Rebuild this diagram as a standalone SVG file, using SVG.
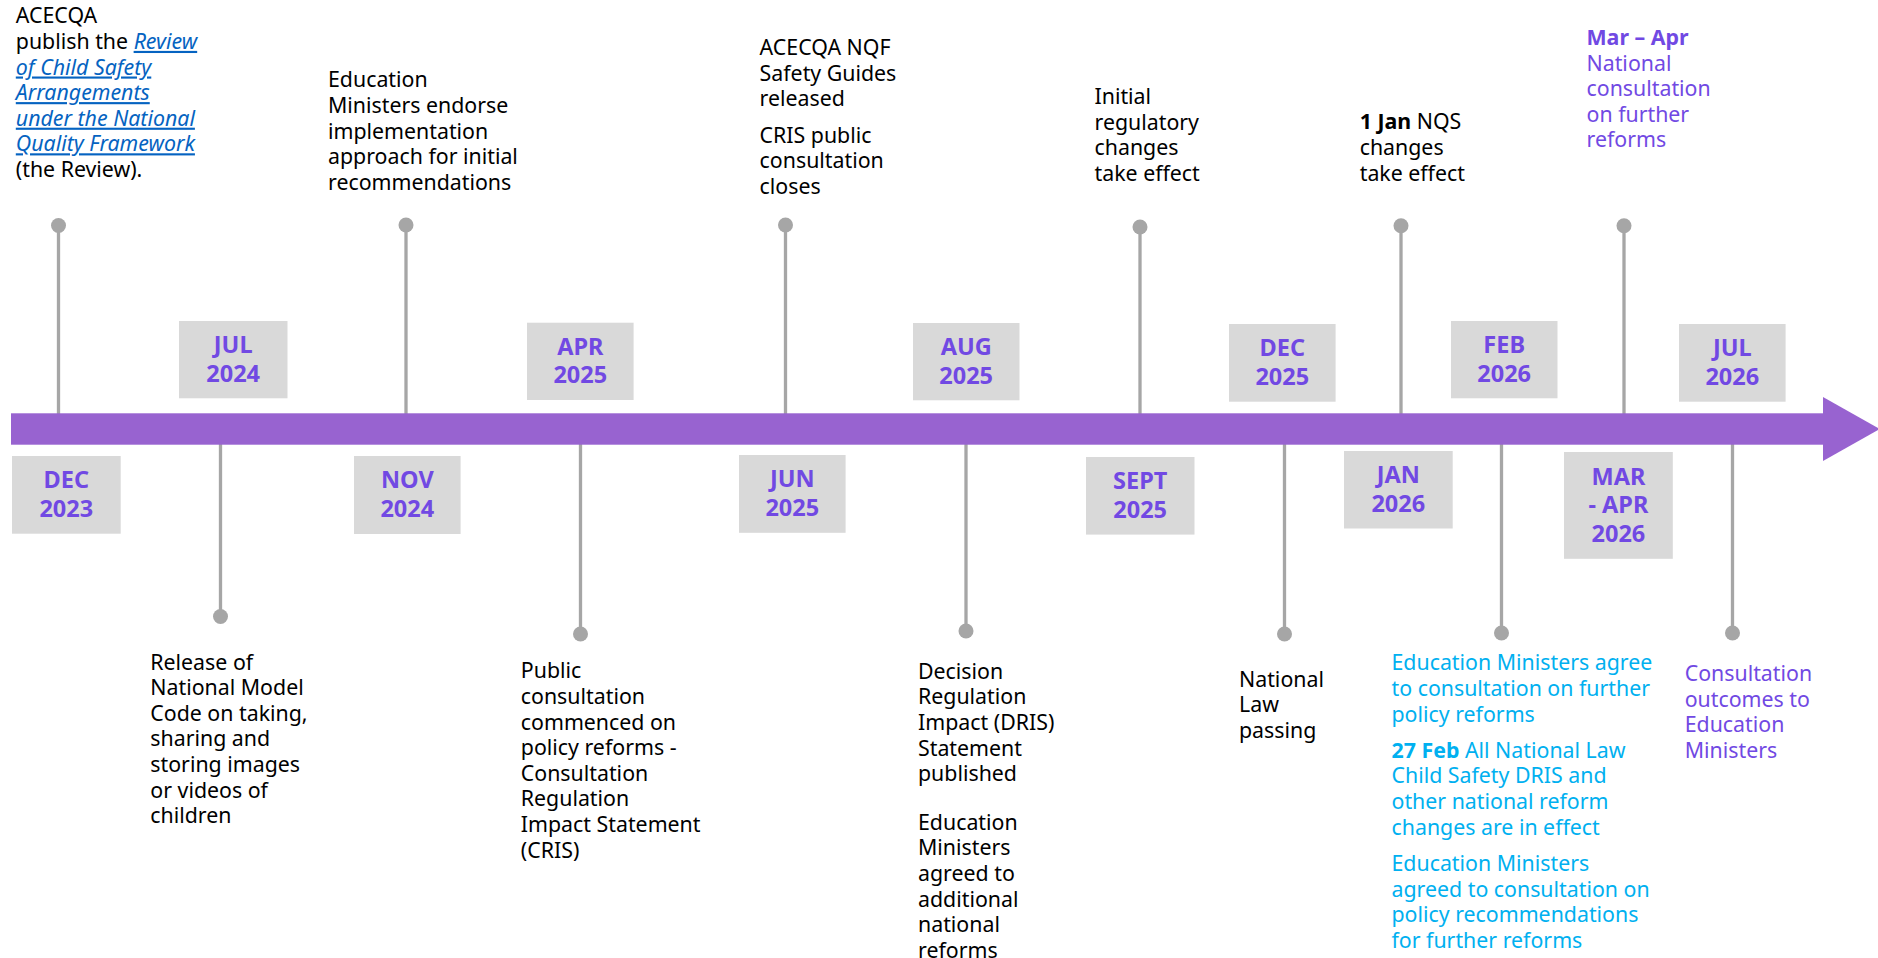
<svg xmlns="http://www.w3.org/2000/svg" width="1878" height="958" viewBox="0 0 1878 958">
<style>
  text { font-family: "Noto Sans", "Open Sans", "Liberation Sans", sans-serif; }
  .t { font-size: 21.33px; fill: #000000; }
  .lnk { font-style: italic; fill: #0563C1; text-decoration: underline; }
  .b { font-weight: bold; }
  .pur { fill: #7149E3; }
  .blu { fill: #00B0F0; }
  .box { fill: #D9D9D9; }
  .lbl { font-size: 23.5px; font-weight: bold; fill: #7149E3; text-anchor: middle; }
  .stem { stroke: #A6A6A6; stroke-width: 3.3; fill: none; }
  .dot { fill: #A6A6A6; }
</style>
<rect width="1878" height="958" fill="#FFFFFF"/>

<g id="connectors">
  <line class="stem" x1="58.5" y1="225.5" x2="58.5" y2="414"/>
  <line class="stem" x1="406" y1="225" x2="406" y2="414"/>
  <line class="stem" x1="785.5" y1="225" x2="785.5" y2="414"/>
  <line class="stem" x1="1140" y1="227" x2="1140" y2="414"/>
  <line class="stem" x1="1401" y1="225.7" x2="1401" y2="414"/>
  <line class="stem" x1="1624" y1="225.7" x2="1624" y2="414"/>
  <line class="stem" x1="220.5" y1="444" x2="220.5" y2="616.5"/>
  <line class="stem" x1="580.5" y1="444" x2="580.5" y2="634"/>
  <line class="stem" x1="966" y1="444" x2="966" y2="631"/>
  <line class="stem" x1="1284.5" y1="444" x2="1284.5" y2="634"/>
  <line class="stem" x1="1501.5" y1="444" x2="1501.5" y2="633"/>
  <line class="stem" x1="1732.5" y1="444" x2="1732.5" y2="633"/>
  <circle class="dot" cx="58.5" cy="225.5" r="7.5"/>
  <circle class="dot" cx="406" cy="225" r="7.5"/>
  <circle class="dot" cx="785.5" cy="225" r="7.5"/>
  <circle class="dot" cx="1140" cy="227" r="7.5"/>
  <circle class="dot" cx="1401" cy="225.7" r="7.5"/>
  <circle class="dot" cx="1624" cy="225.7" r="7.5"/>
  <circle class="dot" cx="220.5" cy="616.5" r="7.5"/>
  <circle class="dot" cx="580.5" cy="634" r="7.5"/>
  <circle class="dot" cx="966" cy="631" r="7.5"/>
  <circle class="dot" cx="1284.5" cy="634" r="7.5"/>
  <circle class="dot" cx="1501.5" cy="633" r="7.5"/>
  <circle class="dot" cx="1732.5" cy="633" r="7.5"/>
</g>

<g id="timeline-arrow">
  <rect x="11" y="413.3" width="1813" height="31.4" fill="#9863D0"/>
  <polygon points="1823,397 1880,429 1823,461" fill="#9863D0"/>
</g>

<g id="date-dec-2023">
  <rect class="box" x="12" y="456" width="108.7" height="77.7"/>
  <text class="lbl" x="66.3" y="488.2">DEC<tspan x="66.3" dy="28.6">2023</tspan></text>
</g>
<g id="date-jul-2024">
  <rect class="box" x="179" y="321" width="108.5" height="77.3"/>
  <text class="lbl" x="233.2" y="353.2">JUL<tspan x="233.2" dy="28.6">2024</tspan></text>
</g>
<g id="date-nov-2024">
  <rect class="box" x="354" y="456" width="106.6" height="78"/>
  <text class="lbl" x="407.3" y="488.4">NOV<tspan x="407.3" dy="28.6">2024</tspan></text>
</g>
<g id="date-apr-2025">
  <rect class="box" x="527" y="322.7" width="106.6" height="77.3"/>
  <text class="lbl" x="580.3" y="354.8">APR<tspan x="580.3" dy="28.6">2025</tspan></text>
</g>
<g id="date-jun-2025">
  <rect class="box" x="739" y="455" width="106.6" height="77.8"/>
  <text class="lbl" x="792.3" y="487.4">JUN<tspan x="792.3" dy="28.6">2025</tspan></text>
</g>
<g id="date-aug-2025">
  <rect class="box" x="913" y="323" width="106.5" height="77.3"/>
  <text class="lbl" x="966.2" y="355.1">AUG<tspan x="966.2" dy="28.6">2025</tspan></text>
</g>
<g id="date-sept-2025">
  <rect class="box" x="1086" y="457" width="108.5" height="77.6"/>
  <text class="lbl" x="1140.2" y="489.3">SEPT<tspan x="1140.2" dy="28.6">2025</tspan></text>
</g>
<g id="date-dec-2025">
  <rect class="box" x="1229" y="324" width="106.6" height="77.7"/>
  <text class="lbl" x="1282.3" y="356.3">DEC<tspan x="1282.3" dy="28.6">2025</tspan></text>
</g>
<g id="date-jan-2026">
  <rect class="box" x="1344" y="451" width="108.7" height="77.5"/>
  <text class="lbl" x="1398.3" y="483.2">JAN<tspan x="1398.3" dy="28.6">2026</tspan></text>
</g>
<g id="date-feb-2026">
  <rect class="box" x="1451" y="321" width="106.5" height="77.3"/>
  <text class="lbl" x="1504.2" y="353.1">FEB<tspan x="1504.2" dy="28.6">2026</tspan></text>
</g>
<g id="date-mar-apr-2026">
  <rect class="box" x="1564" y="452" width="108.8" height="106.8"/>
  <text class="lbl" x="1618.4" y="484.8">MAR<tspan x="1618.4" dy="28.6">- APR</tspan><tspan x="1618.4" dy="28.6">2026</tspan></text>
</g>
<g id="date-jul-2026">
  <rect class="box" x="1679" y="324" width="106.6" height="77.7"/>
  <text class="lbl" x="1732.3" y="356.3">JUL<tspan x="1732.3" dy="28.6">2026</tspan></text>
</g>

<g id="event-review-published">
  <text class="t" x="15.8" y="23.3">ACECQA</text>
  <text class="t" x="15.8" y="48.9">publish the <tspan class="lnk">Review</tspan></text>
  <text class="t lnk" x="15.8" y="74.5">of Child Safety</text>
  <text class="t lnk" x="15.8" y="100.1">Arrangements</text>
  <text class="t lnk" x="15.8" y="125.7">under the National</text>
  <text class="t lnk" x="15.8" y="151.3">Quality Framework</text>
  <text class="t" x="15.8" y="176.9">(the Review).</text>
</g>

<g id="event-ministers-endorse">
  <text class="t" x="328" y="87.3">Education</text>
  <text class="t" x="328" y="112.9">Ministers endorse</text>
  <text class="t" x="328" y="138.5">implementation</text>
  <text class="t" x="328" y="164.1">approach for initial</text>
  <text class="t" x="328" y="189.7">recommendations</text>
</g>

<g id="event-safety-guides">
  <text class="t" x="759.6" y="55">ACECQA NQF</text>
  <text class="t" x="759.6" y="80.6">Safety Guides</text>
  <text class="t" x="759.6" y="106.2">released</text>
  <text class="t" x="759.6" y="142.7">CRIS public</text>
  <text class="t" x="759.6" y="168.3">consultation</text>
  <text class="t" x="759.6" y="193.9">closes</text>
</g>

<g id="event-initial-changes">
  <text class="t" x="1094.5" y="104">Initial</text>
  <text class="t" x="1094.5" y="129.6">regulatory</text>
  <text class="t" x="1094.5" y="155.2">changes</text>
  <text class="t" x="1094.5" y="180.8">take effect</text>
</g>

<g id="event-nqs-changes">
  <text class="t" x="1359.7" y="129.4"><tspan class="b">1 Jan</tspan> NQS</text>
  <text class="t" x="1359.7" y="155">changes</text>
  <text class="t" x="1359.7" y="180.6">take effect</text>
</g>

<g id="event-national-consultation">
  <text class="t pur b" x="1586.5" y="45">Mar – Apr</text>
  <text class="t pur" x="1586.5" y="70.6">National</text>
  <text class="t pur" x="1586.5" y="96.2">consultation</text>
  <text class="t pur" x="1586.5" y="121.8">on further</text>
  <text class="t pur" x="1586.5" y="147.4">reforms</text>
</g>

<g id="event-model-code">
  <text class="t" x="150.3" y="669.5">Release of</text>
  <text class="t" x="150.3" y="695.1">National Model</text>
  <text class="t" x="150.3" y="720.7">Code on taking,</text>
  <text class="t" x="150.3" y="746.3">sharing and</text>
  <text class="t" x="150.3" y="771.9">storing images</text>
  <text class="t" x="150.3" y="797.5">or videos of</text>
  <text class="t" x="150.3" y="823.1">children</text>
</g>

<g id="event-public-consultation">
  <text class="t" x="520.8" y="678.4">Public</text>
  <text class="t" x="520.8" y="704">consultation</text>
  <text class="t" x="520.8" y="729.6">commenced on</text>
  <text class="t" x="520.8" y="755.2">policy reforms -</text>
  <text class="t" x="520.8" y="780.8">Consultation</text>
  <text class="t" x="520.8" y="806.4">Regulation</text>
  <text class="t" x="520.8" y="832">Impact Statement</text>
  <text class="t" x="520.8" y="857.6">(CRIS)</text>
</g>

<g id="event-dris">
  <text class="t" x="918" y="678.7">Decision</text>
  <text class="t" x="918" y="704.3">Regulation</text>
  <text class="t" x="918" y="729.9">Impact (DRIS)</text>
  <text class="t" x="918" y="755.5">Statement</text>
  <text class="t" x="918" y="781.1">published</text>
  <text class="t" x="918" y="829.8">Education</text>
  <text class="t" x="918" y="855.4">Ministers</text>
  <text class="t" x="918" y="881">agreed to</text>
  <text class="t" x="918" y="906.6">additional</text>
  <text class="t" x="918" y="932.2">national</text>
  <text class="t" x="918" y="957.8">reforms</text>
</g>

<g id="event-national-law">
  <text class="t" x="1239" y="686.6">National</text>
  <text class="t" x="1239" y="712.2">Law</text>
  <text class="t" x="1239" y="737.8">passing</text>
</g>

<g id="event-feb-2026">
  <text class="t blu" x="1391.5" y="670.3">Education Ministers agree</text>
  <text class="t blu" x="1391.5" y="695.9">to consultation on further</text>
  <text class="t blu" x="1391.5" y="721.5">policy reforms</text>
  <text class="t blu" x="1391.5" y="757.8"><tspan class="b">27 Feb</tspan> All National Law</text>
  <text class="t blu" x="1391.5" y="783.4">Child Safety DRIS and</text>
  <text class="t blu" x="1391.5" y="809">other national reform</text>
  <text class="t blu" x="1391.5" y="834.6">changes are in effect</text>
  <text class="t blu" x="1391.5" y="871.2">Education Ministers</text>
  <text class="t blu" x="1391.5" y="896.8">agreed to consultation on</text>
  <text class="t blu" x="1391.5" y="922.4">policy recommendations</text>
  <text class="t blu" x="1391.5" y="948">for further reforms</text>
</g>

<g id="event-consultation-outcomes">
  <text class="t pur" x="1684.7" y="681">Consultation</text>
  <text class="t pur" x="1684.7" y="706.6">outcomes to</text>
  <text class="t pur" x="1684.7" y="732.2">Education</text>
  <text class="t pur" x="1684.7" y="757.8">Ministers</text>
</g>
</svg>
